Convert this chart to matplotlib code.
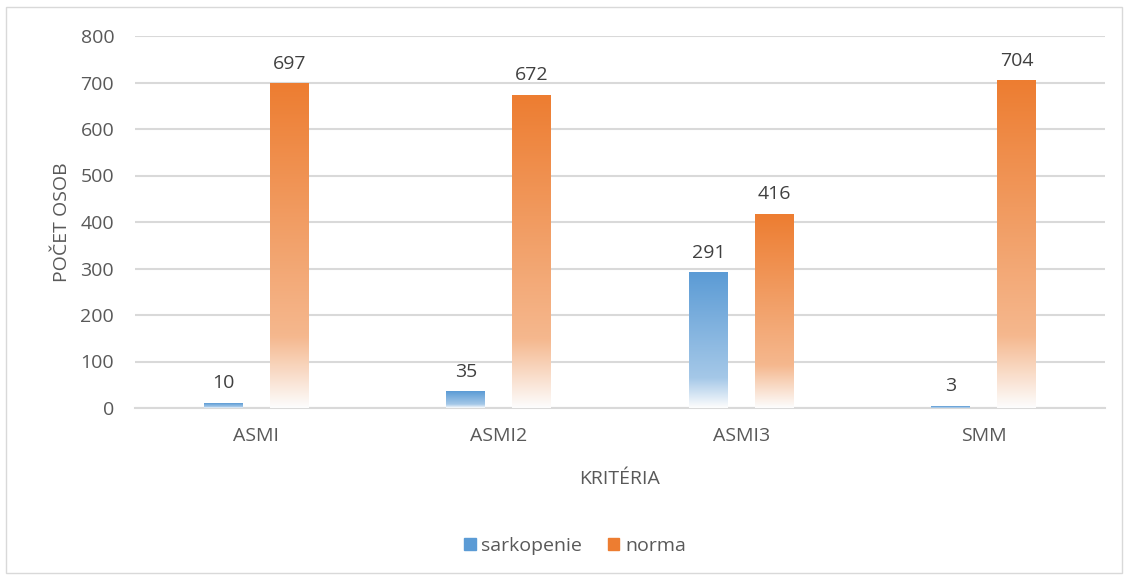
import matplotlib.pyplot as plt
import numpy as np
import matplotlib.colors as mcolors
from matplotlib.patches import Rectangle, Patch

categories = ['ASMI', 'ASMI2', 'ASMI3', 'SMM']
sarkopenie = [10, 35, 291, 3]
norma = [697, 672, 416, 704]

BLUE = '#5B9BD5'
ORANGE = '#ED7D31'
TXT = '#595959'
GRID = '#D9D9D9'

plt.rcParams['font.family'] = ['Open Sans', 'DejaVu Sans']


def gradient_img(color, n=200):
	# top full colour, lighter near 80 %, white at the bottom
	c = np.array(mcolors.to_rgb(color))
	w = np.ones(3)
	light = c + (w - c) * 0.45
	t = np.linspace(0, 1, n)
	img = np.zeros((n, 1, 3))
	for i, v in enumerate(t):
		if v < 0.78:
			f = v / 0.78
			img[i, 0] = c + (light - c) * f
		else:
			f = (v - 0.78) / 0.22
			img[i, 0] = light + (w * 0.99 - light) * f
	return img


fig = plt.figure(figsize=(11.29, 5.79), dpi=100)
ax = fig.add_axes([135 / 1129, 1 - 408 / 579, 970 / 1129, 372 / 579])

x = np.arange(len(categories))
bw = 0.16
off = 0.136
b1 = ax.bar(x - off, sarkopenie, bw, color='none', zorder=3)
b2 = ax.bar(x + off, norma, bw, color='none', zorder=3)

for bars, col in [(b1, BLUE), (b2, ORANGE)]:
	img = gradient_img(col)
	for r in bars:
		x0, y0 = r.get_x(), r.get_y()
		h = r.get_height()
		ax.imshow(img, extent=[x0, x0 + r.get_width(), y0, y0 + h],
			aspect='auto', zorder=3, interpolation='bilinear')
		ax.annotate(str(int(h)), (x0 + r.get_width() / 2, h), xytext=(0, 8),
			textcoords='offset points', ha='center', va='bottom',
			fontsize=14, color='#404040')

ax.set_xlim(-0.5, 3.5)
ax.set_ylim(0, 800)
ax.set_yticks(range(0, 801, 100))
ax.set_xticks(x)
ax.set_xticklabels(categories)
ax.yaxis.grid(True, color=GRID, linewidth=1.5, zorder=0)
ax.set_axisbelow(True)
for s in ['top', 'right', 'left']:
	ax.spines[s].set_visible(False)
ax.spines['bottom'].set_color(GRID)
ax.spines['bottom'].set_linewidth(1.5)
ax.tick_params(length=0, labelsize=14, colors=TXT)
ax.tick_params(axis='y', pad=15)
ax.tick_params(axis='x', pad=14)

ax.set_ylabel('POČET OSOB', fontsize=14, color=TXT, labelpad=7)
ax.set_xlabel('KRITÉRIA', fontsize=14, color=TXT, labelpad=18)

handles = [Patch(color=BLUE, label='sarkopenie'), Patch(color=ORANGE, label='norma')]
fig.legend(handles=handles, loc='center', bbox_to_anchor=(575 / 1129, 1 - 546 / 579),
	ncol=2, frameon=False, fontsize=14, labelcolor=TXT, handlelength=0.6,
	handleheight=0.6, handletextpad=0.3, columnspacing=1.3)

fig.patches.append(Rectangle((6 / 1129, 6 / 579), 1116 / 1129, 566 / 579,
	transform=fig.transFigure, fill=False, edgecolor=GRID, linewidth=1))

fig.savefig('out.png', dpi=100)
